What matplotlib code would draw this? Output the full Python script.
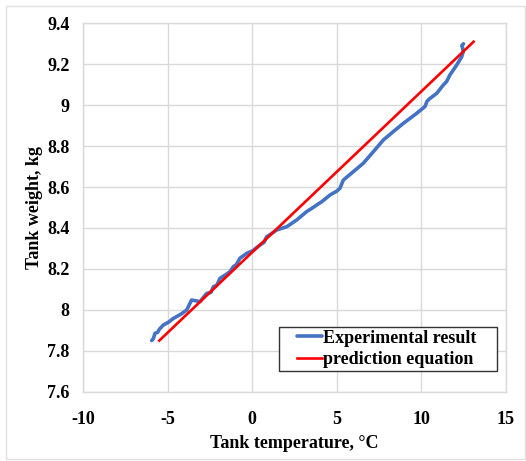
import matplotlib
matplotlib.use("Agg")
import matplotlib.pyplot as plt
from matplotlib.patches import Rectangle

# Experimental data (tank temperature, °C vs tank weight, kg)
exp_temp = [-5.95, -5.85, -5.76, -5.6, -5.5, -5.26, -4.95, -4.67, -4.2, -3.88, -3.59, -3.4,
            -3.09, -2.9, -2.70, -2.45, -2.30, -2.1,
            -1.91, -1.6, -1.32, -1.12, -0.95, -0.73, -0.33, 0.06, 0.2, 0.46, 0.7, 0.85, 1.1,
            1.44, 2.04, 2.63, 3.22, 3.6, 3.81, 4.11, 4.60, 5.0, 5.19, 5.39, 5.98, 6.57,
            7.17, 7.76, 8.35, 8.94, 9.73, 10.22, 10.35, 10.52, 10.92, 11.31, 11.50,
            11.70, 12.10, 12.40, 12.48, 12.45, 12.40, 12.50]
exp_weight = [7.85, 7.86, 7.885, 7.89, 7.905, 7.926, 7.94, 7.958, 7.98, 7.999, 8.048, 8.045,
              8.04, 8.06, 8.08, 8.085, 8.113, 8.12,
              8.154, 8.17, 8.186, 8.211, 8.22, 8.252, 8.276, 8.29, 8.30, 8.317, 8.33, 8.357,
              8.37, 8.39, 8.406, 8.439, 8.48, 8.50, 8.512, 8.528, 8.561, 8.58, 8.594,
              8.634, 8.675, 8.716, 8.773, 8.83, 8.871, 8.911, 8.96, 8.993, 9.02, 9.033,
              9.058, 9.099, 9.115, 9.148, 9.196, 9.237, 9.26, 9.28, 9.29, 9.30]

# Prediction equation (straight line endpoints)
pred_temp = [-5.5, 13.1]
pred_weight = [7.85, 9.31]

x_ticks = [-10, -5, 0, 5, 10, 15]
y_ticks = [7.6, 7.8, 8.0, 8.2, 8.4, 8.6, 8.8, 9.0, 9.2, 9.4]
y_tick_labels = ["7.6", "7.8", "8", "8.2", "8.4", "8.6", "8.8", "9", "9.2", "9.4"]

plt.rcParams['font.family'] = ['Liberation Serif', 'DejaVu Serif']
plt.rcParams['font.weight'] = 'bold'

fig = plt.figure(figsize=(5.26, 4.61), dpi=100)
ax = fig.add_axes([83.3/526, 1 - 391.7/461, 422.4/526, 368.4/461])

ax.plot(exp_temp, exp_weight, color='#4472C4', lw=2.6, solid_joinstyle='round',
        solid_capstyle='round', label='Experimental result', zorder=3)
ax.plot(pred_temp, pred_weight, color='#FF0000', lw=1.9, label='prediction equation', zorder=4)

ax.set_xlim(-10, 15)
ax.set_ylim(7.6, 9.4)
ax.set_xticks(x_ticks)
ax.set_xticklabels([str(v) for v in x_ticks])
ax.set_yticks(y_ticks)
ax.set_yticklabels(y_tick_labels)
ax.grid(True, color='#d9d9d9', lw=1)
ax.set_axisbelow(True)
for s in ax.spines.values():
    s.set_color('#d9d9d9')
    s.set_linewidth(1)
ax.tick_params(axis='x', length=0, labelsize=13, pad=14)
ax.tick_params(axis='y', length=0, labelsize=13, pad=10)
for lab in ax.get_xticklabels() + ax.get_yticklabels():
    lab.set_fontweight('bold')

ax.set_xlabel('Tank temperature, °C', fontsize=13, fontweight='bold', labelpad=5)
ax.set_ylabel('Tank weight, kg', fontsize=13, fontweight='bold', labelpad=3)

# legend box (Excel-style frame)
ax.add_patch(Rectangle((0.4633, 0.0562), 0.516, 0.1194, transform=ax.transAxes,
                       facecolor='white', edgecolor='#333333', lw=1.0, zorder=5))
leg = ax.legend(loc='center left', bbox_to_anchor=(0.506, 0.116), frameon=False,
                fontsize=13, handlelength=1.38, handletextpad=0.05, borderpad=0,
                labelspacing=0.25, borderaxespad=0)
leg.set_zorder(6)
for t in leg.get_texts():
    t.set_fontweight('bold')

# light figure border
fig.patches.append(Rectangle((6/526, 0.004), 1 - 7/526, 1 - 6/461 - 0.004,
                             transform=fig.transFigure, fill=False,
                             edgecolor='#e0e0e0', lw=1))

fig.savefig('out.png', dpi=100)
